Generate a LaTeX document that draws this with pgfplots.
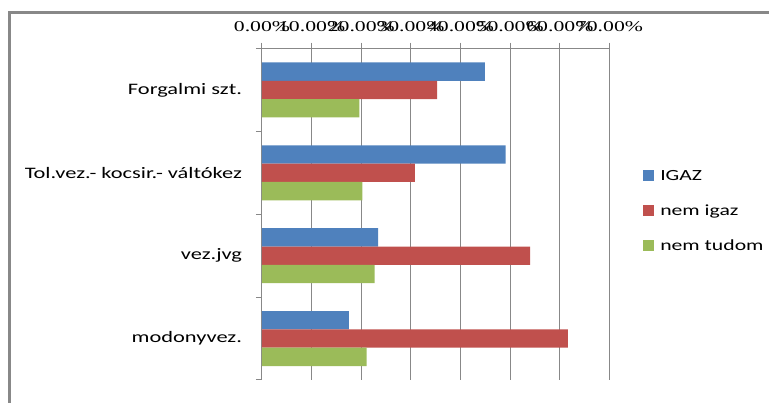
\documentclass[border=0pt]{standalone}
\usepackage{pgfplots}
\pgfplotsset{compat=1.18}
\usepackage{fontspec}
\setmainfont{Carlito}[FakeStretch=1.40]
\newfontfamily\tickfont{Liberation Serif}[FakeStretch=1.45]
\definecolor{cblue}{HTML}{4F81BD}
\definecolor{cred}{HTML}{C0504D}
\definecolor{cgreen}{HTML}{9BBB59}
\definecolor{gridgray}{HTML}{888888}
\begin{document}
\begin{tikzpicture}[x=1pt,y=1pt]
\useasboundingbox (0,0) rectangle (769,-403);
\clip (0,0) rectangle (769,-403);
\draw[color=gridgray, line width=3pt] (9.5,-430) -- (9.5,-13) -- (800,-13);
\begin{axis}[
  at={(262pt,-48.5pt)}, anchor=north west,
  width=347.5pt, height=331.5pt, scale only axis,
  xbar=0pt, bar width=18.3pt,
  xmin=0, xmax=70, ymin=-0.5, ymax=3.5, y dir=reverse,
  axis x line*=top, axis y line*=left,
  axis line style={gridgray, line width=1pt, -},
  tick align=outside, major tick length=6pt,
  tick style={gridgray, line width=1pt},
  xtick={0,10,20,30,40,50,60,70},
  xticklabels={0.00\%,10.00\%,20.00\%,30.00\%,40.00\%,50.00\%,60.00\%,70.00\%},
  xticklabel style={font=\tickfont\fontsize{15}{16}\selectfont, text=black, yshift=7pt},
  xmajorgrids, grid style={gridgray, line width=1pt},
  ytick={-0.5,0.5,1.5,2.5,3.5}, yticklabels={},
  extra y ticks={0,1,2,3},
  extra y tick labels={Forgalmi szt.,Tol.vez.- kocsir.- váltókez,vez.jvg,modonyvez.},
  extra y tick style={major tick length=0pt, grid=none,
     yticklabel style={font=\fontsize{16}{18}\selectfont, xshift=-16.5pt, text=black}},
  legend style={at={(1.088,0.51)}, anchor=west, draw=none, fill=none,
     font=\fontsize{15.5}{17}\selectfont, row sep=19pt, column sep=4pt,
     nodes={inner sep=2pt}},
  legend cell align=left,
  legend image code/.code={\fill[#1,draw=none] (0pt,-5.5pt) rectangle (11pt,5.5pt);},
]
\addplot[fill=cblue, draw=none, bar shift=18.3pt] coordinates {(44.9,0) (49.1,1) (23.4,2) (17.5,3)};
\addplot[fill=cred, draw=none, bar shift=0pt] coordinates {(35.3,0) (30.8,1) (54.0,2) (61.6,3)};
\addplot[fill=cgreen, draw=none, bar shift=-18.3pt] coordinates {(19.6,0) (20.2,1) (22.7,2) (21.1,3)};
\legend{IGAZ,nem igaz,nem tudom}
\end{axis}
\end{tikzpicture}
\end{document}
